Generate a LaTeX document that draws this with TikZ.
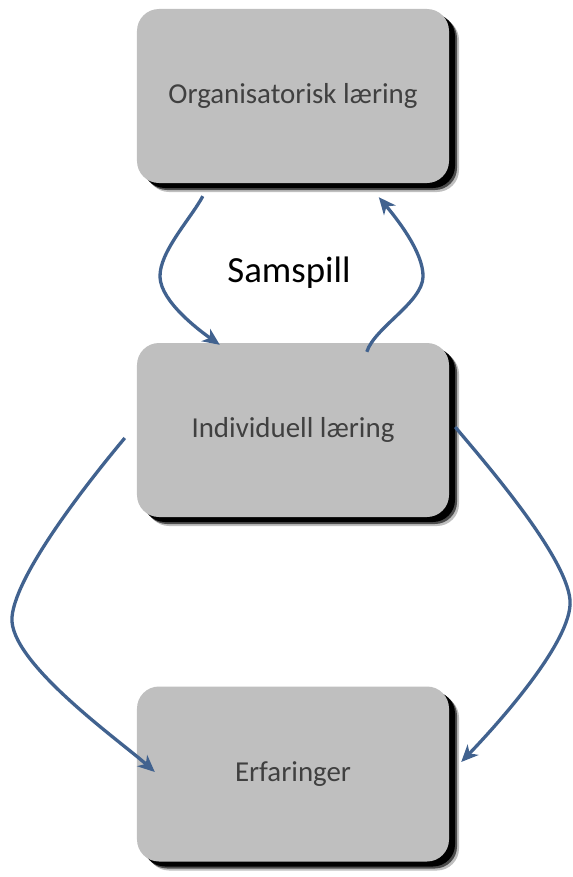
\documentclass[tikz,border=0pt]{standalone}
\usepackage{fontspec}
\setmainfont{Carlito}
\usetikzlibrary{shadows,arrows.meta,calc}
\definecolor{boxgray}{HTML}{BFBFBF}
\definecolor{txtgray}{HTML}{404040}
\definecolor{arrowblue}{HTML}{41628F}
\begin{document}
\begin{tikzpicture}[x=1bp,y=1bp,
 box/.style={rounded corners=22bp, fill=boxgray, minimum width=312bp, minimum height=174bp,
   inner sep=0pt, font=\fontsize{29}{34}\selectfont, text=txtgray,
   drop shadow={shadow xshift=10bp,shadow yshift=-9bp,opacity=0.25,fill=black},
   drop shadow={shadow xshift=8bp,shadow yshift=-7bp,opacity=0.6,fill=black},
   drop shadow={shadow xshift=6bp,shadow yshift=-5bp,opacity=1,fill=black}},
 conn/.style={draw=arrowblue, line width=3.3bp, -{Stealth[length=17bp,width=15bp,inset=5bp]}}
]
\useasboundingbox (0,0) rectangle (573,-877);
\node[box] (org) at (293,-96) {Organisatorisk læring};
\node[box] (ind) at (293,-430) {Individuell læring};
\node[box, minimum height=175bp] (erf) at (293,-774) {Erfaringer};
\node[font=\fontsize{37}{42}\selectfont] (sam) at (289,-273) {Samspill};

\coordinate (a1s) at ([xshift=66bp,yshift=-13bp]org.south west);
\coordinate (a1m) at (160,-277);
\coordinate (a1e) at ([xshift=83bp,yshift=-2bp]ind.north west);
\draw[conn] (a1s) to[out=-118,in=92,looseness=0.7] (a1m) to[out=-88,in=145,looseness=0.7] (a1e);

\coordinate (a2s) at ([xshift=230bp,yshift=-9bp]ind.north west);
\coordinate (a2m) at (423,-277);
\coordinate (a2e) at ([xshift=242bp,yshift=-14bp]org.south west);
\draw[conn] (a2s) to[out=72,in=-92,looseness=0.7] (a2m) to[out=88,in=-50,looseness=0.7] (a2e);

\coordinate (a3s) at ([xshift=-12bp,yshift=-8bp]ind.west);
\coordinate (a3m) at (12,-617);
\coordinate (a3e) at ([xshift=18bp,yshift=2bp]erf.west);
\draw[conn] (a3s) to[out=-130,in=85,looseness=0.55] (a3m) to[out=-95,in=138,looseness=0.55] (a3e);

\coordinate (a4s) at ([xshift=6bp,yshift=3bp]ind.east);
\coordinate (a4m) at (570,-600);
\coordinate (a4e) at ([xshift=12bp,yshift=12bp]erf.east);
\draw[conn] (a4s) to[out=-50,in=95,looseness=0.55] (a4m) to[out=-85,in=46,looseness=0.55] (a4e);
\end{tikzpicture}
\end{document}
